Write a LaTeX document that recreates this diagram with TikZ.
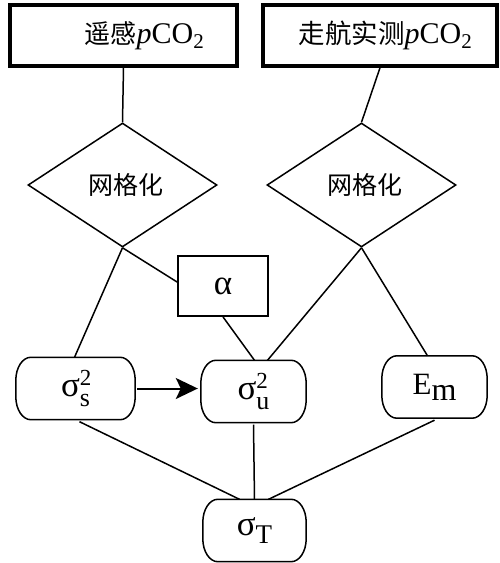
\documentclass[tikz,border=0pt]{standalone}
\usepackage{fontspec}
\setmainfont{Liberation Serif}
\newfontfamily\cjk{Noto Sans CJK SC}
\usetikzlibrary{shapes.geometric,arrows.meta}
\newcommand\subx[3]{\raisebox{-#3pt}{\fontsize{#2}{#2}\selectfont #1}}
\newcommand\supsub[2]{\rlap{\raisebox{11pt}{\fontsize{23}{23}\selectfont #1}}\raisebox{-10pt}{\fontsize{26}{26}\selectfont #2}}
\newcommand\grk[1]{{\fontsize{35}{35}\selectfont #1}}
\newcommand\pill[1]{\draw[link] ([xshift=15pt]#1.north west) -- ([xshift=-15pt]#1.north east)
  arc[start angle=90,end angle=0,x radius=15pt,y radius=23pt] -- ([yshift=23pt]#1.south east)
  arc[start angle=0,end angle=-90,x radius=15pt,y radius=23pt] -- ([xshift=15pt]#1.south west)
  arc[start angle=270,end angle=180,x radius=15pt,y radius=23pt] -- ([yshift=-23pt]#1.north west)
  arc[start angle=180,end angle=90,x radius=15pt,y radius=23pt] -- cycle;}
\begin{document}
\begin{tikzpicture}[x=1pt,y=-1pt,
  topbox/.style={draw, line width=3.5pt, inner sep=0pt, minimum height=61pt,
    font=\fontsize{30}{30}\selectfont},
  gridbox/.style={draw, diamond, line width=1.5pt, inner sep=0pt,
    minimum width=189pt, minimum height=124pt, font=\cjk\fontsize{25}{25}\selectfont},
  parbox/.style={draw, line width=1.8pt, inner sep=0pt, minimum width=90pt,
    minimum height=60pt, font=\fontsize{30}{30}\selectfont},
  roundbox/.style={inner sep=0pt, minimum height=62pt, font=\fontsize{31}{31}\selectfont},
  link/.style={line width=1.5pt}]
\useasboundingbox (0,0) rectangle (499,563);
\node[topbox, minimum width=227pt] (b1) at (123.5,35.5)
  {\hspace*{42pt}{\cjk\fontsize{26}{26}\selectfont 遥感}\textit{p}CO\textsubscript{2}};
\node[topbox, minimum width=234pt] (b2) at (380,35.5)
  {\hspace*{11pt}{\cjk\fontsize{26.5}{26.5}\selectfont 走航实测}\textit{p}CO\textsubscript{2}};
\node[gridbox] (d1) at (122.5,185) {\hspace*{6pt}网格化};
\node[gridbox] (d2) at (361.5,185) {\hspace*{6pt}网格化};
\node[parbox] (a) at (223,286) {\grk{α}};
\node[roundbox, minimum width=119pt] (ss) at (75.5,388.5) {\grk{σ}\supsub{2}{s}};
\node[roundbox, minimum width=105pt] (su) at (253.5,391.5) {\grk{σ}\supsub{2}{u}};
\node[roundbox, minimum width=105pt] (em) at (434.5,387) {E\subx{m}{32}{6}};
\node[roundbox, minimum width=103pt] (st) at (254.5,530.5) {\grk{σ}\subx{T}{27}{8}};
\pill{ss}
\pill{su}
\pill{em}
\pill{st}
\draw[link] (b1.south) -- (d1.north);
\draw[link] (b2.south) -- (d2.north);
\draw[link] (d1.south) -- ([yshift=4pt]a.west);
\draw[link] (d1.south) -- ([xshift=-1pt]ss.north);
\draw[link] (a.south) -- ([xshift=1pt]su.north);
\draw[link] (d2.south) -- ([xshift=14pt]su.north);
\draw[link] (d2.south) -- ([xshift=-7pt]em.north);
\draw[link, line width=2pt, -{Stealth[length=22pt,width=21pt,inset=5pt]}] ([xshift=2pt]ss.east) -- ([xshift=-3pt]su.west |- ss.east);
\draw[link] ([xshift=4pt,yshift=-2pt]ss.south) -- ([xshift=-15pt]st.north);
\draw[link] ([yshift=-2pt]su.south) -- (st.north);
\draw[link] ([yshift=-2pt]em.south) -- ([xshift=14pt]st.north);
\end{tikzpicture}
\end{document}
